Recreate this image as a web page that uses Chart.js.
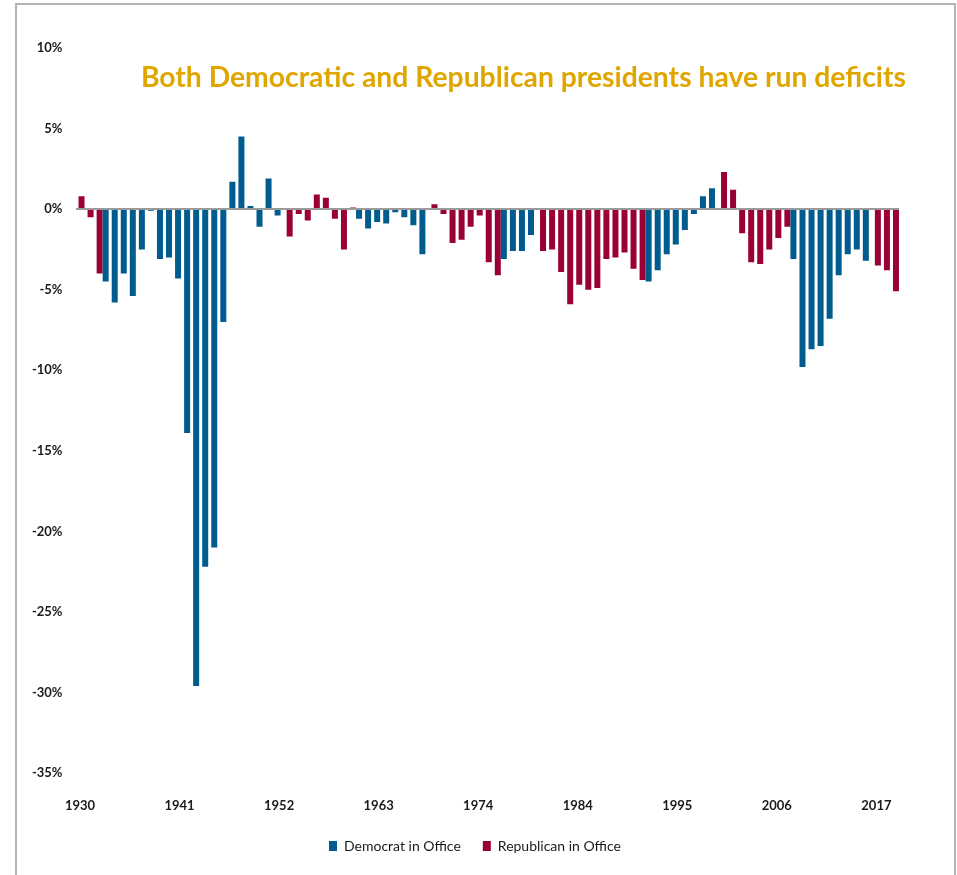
<!DOCTYPE html>
<html>
<head>
<meta charset="utf-8">
<script src="https://cdn.jsdelivr.net/npm/chart.js@4"></script>
<style>
  html, body { margin: 0; padding: 0; background: #fff; }
  #frame { position: absolute; left: 15px; top: 3px; width: 937px; height: 900px; border: 2px solid #b4b4b4; }
  #wrap { position: absolute; left: 0; top: 0; width: 957px; height: 875px; }
  #title { position: absolute; right: 51px; top: 59px; font: bold 28.3px Lato, "Open Sans", sans-serif; color: #e0a600; white-space: nowrap; }
</style>
</head>
<body>
<div id="frame"></div>
<div id="wrap"><canvas id="chart" width="957" height="875"></canvas></div>
<div id="title">Both Democratic and Republican presidents have run deficits</div>
<script>
// Fiscal years, including the 1976 transition quarter (TQ)
const years = [
  "1930","1931","1932","1933","1934","1935","1936","1937","1938","1939",
  "1940","1941","1942","1943","1944","1945","1946","1947","1948","1949",
  "1950","1951","1952","1953","1954","1955","1956","1957","1958","1959",
  "1960","1961","1962","1963","1964","1965","1966","1967","1968","1969",
  "1970","1971","1972","1973","1974","1975","1976","TQ","1977","1978",
  "1979","1980","1981","1982","1983","1984","1985","1986","1987","1988",
  "1989","1990","1991","1992","1993","1994","1995","1996","1997","1998",
  "1999","2000","2001","2002","2003","2004","2005","2006","2007","2008",
  "2009","2010","2011","2012","2013","2014","2015","2016","2017","2018","2019"
];

// Surplus (+) / deficit (-) as % of GDP
const balance = [
   0.8, -0.5, -4.0, -4.5, -5.8, -4.0, -5.4, -2.5, -0.1, -3.1,
  -3.0, -4.3,-13.9,-29.6,-22.2,-21.0, -7.0,  1.7,  4.5,  0.2,
  -1.1,  1.9, -0.4, -1.7, -0.3, -0.7,  0.9,  0.7, -0.6, -2.5,
   0.1, -0.6, -1.2, -0.8, -0.9, -0.2, -0.5, -1.0, -2.8,  0.3,
  -0.3, -2.1, -1.9, -1.1, -0.4, -3.3, -4.1, -3.1, -2.6, -2.6,
  -1.6, -2.6, -2.5, -3.9, -5.9, -4.7, -5.0, -4.9, -3.1, -3.0,
  -2.7, -3.7, -4.4, -4.5, -3.8, -2.8, -2.2, -1.3, -0.3,  0.8,
   1.3,  2.3,  1.2, -1.5, -3.3, -3.4, -2.5, -1.8, -1.1, -3.1,
  -9.8, -8.7, -8.5, -6.8, -4.1, -2.8, -2.5, -3.2, -3.5, -3.8, -5.1
];

// Party in office for each bar: D = Democrat, R = Republican
const party = (
  "RRRDDDDDDD" + "DDDDDDDDDD" + "DDDRRRRRRR" + "RDDDDDDDDR" +
  "RRRRRRRDDD" + "DRRRRRRRRR" + "RRRDDDDDDD" + "DRRRRRRRRD" +
  "DDDDDDDDRRR"
).split("");

const xTickLabels = ["1930","1941","1952","1963","1974","1984","1995","2006","2017"];
const yTicks = { min: -35, max: 10, step: 5 };

const demValues = balance.map((v, i) => party[i] === "D" ? v : null);
const repValues = balance.map((v, i) => party[i] === "R" ? v : null);

const BLUE = "#005b8f";
const RED  = "#9a0036";
const FONT = "Lato, 'Open Sans', sans-serif";

new Chart(document.getElementById("chart"), {
  type: "bar",
  data: {
    labels: years,
    datasets: [
      { label: "Democrat in Office",   data: demValues, backgroundColor: BLUE },
      { label: "Republican in Office", data: repValues, backgroundColor: RED }
    ]
  },
  options: {
    responsive: false,
    animation: false,
    // two slots per year, each bar twice the slot width so they overlap like the original
    categoryPercentage: 0.663,
    barPercentage: 2.0,
    layout: { padding: { left: 20, right: 27, top: 48, bottom: 12 } },
    plugins: {
      legend: {
        position: "bottom",
        labels: { boxWidth: 8, boxHeight: 10, padding: 22, color: "#1a1a1a", font: { family: FONT, size: 14 } }
      },
      tooltip: { enabled: false }
    },
    scales: {
      x: {
        afterFit: (s) => { s.height = 44; },
        grid: { display: false },
        border: { display: false },
        ticks: {
          autoSkip: false, maxRotation: 0, padding: 17,
          color: "#1a1a1a", font: { family: FONT, size: 13, weight: "bold" },
          callback: (v, i) => xTickLabels.includes(years[i]) ? years[i] : ""
        }
      },
      y: {
        min: yTicks.min, max: yTicks.max,
        z: 1,
        afterFit: (s) => { s.width = 55.5; },
        border: { display: false },
        grid: {
          drawTicks: false,
          lineWidth: 2,
          color: (ctx) => ctx.tick && ctx.tick.value === 0 ? "#9a9a9a" : "rgba(0,0,0,0)"
        },
        ticks: {
          stepSize: yTicks.step, padding: 13,
          color: "#1a1a1a", font: { family: FONT, size: 13, weight: "bold" },
          callback: (v) => v + "%"
        }
      },
      // empty right-hand axis, only reserves the blank strip right of the plot
      yRight: {
        position: "right",
        afterFit: (s) => { s.width = 31; },
        grid: { display: false },
        border: { display: false },
        ticks: { display: false }
      }
    }
  }
});
</script>
</body>
</html>
